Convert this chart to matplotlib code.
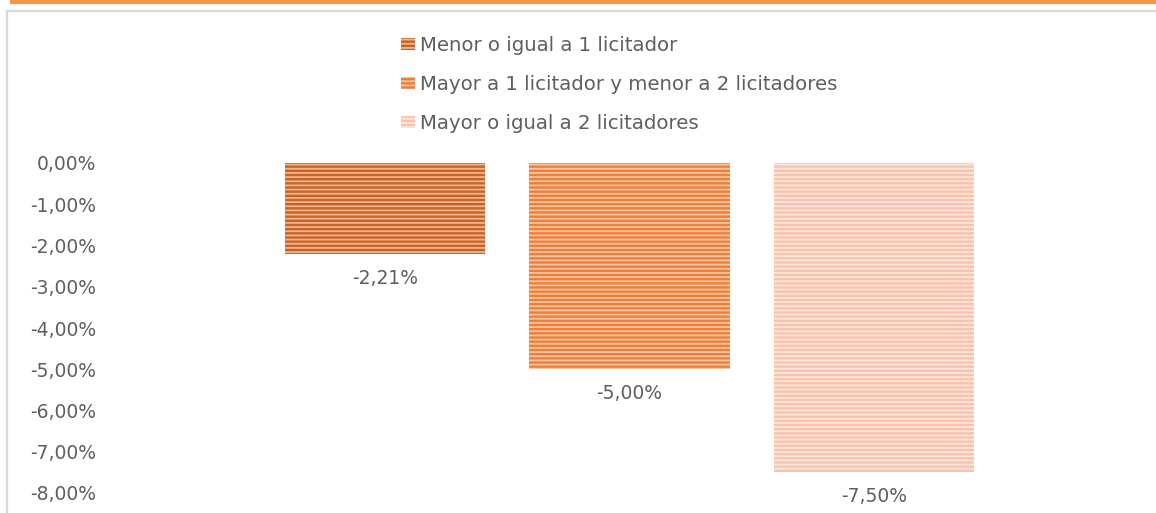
import matplotlib.pyplot as plt
import matplotlib.patches as mpatches
from matplotlib.lines import Line2D

plt.rcParams['font.family'] = ['DejaVu Sans']
plt.rcParams['hatch.linewidth'] = 1.3

# Data
series = ['Menor o igual a 1 licitador',
          'Mayor a 1 licitador y menor a 2 licitadores',
          'Mayor o igual a 2 licitadores']
values = [-2.21, -5.00, -7.50]
yticks = [0, -1, -2, -3, -4, -5, -6, -7, -8]

face_colors = ['#C8632A', '#EE7F3B', '#F9C3AE']
stripe_colors = ['#F2B48A', '#F9C4A0', '#FDE6DC']
text_color = '#5F5F5F'

W, H = 1156, 513
fig = plt.figure(figsize=(W / 100, H / 100), dpi=100)

# orange band on top and the grey frame of the chart box
fig.patches.append(mpatches.Rectangle((10 / W, 1 - 4 / H), 1, 4 / H,
                                      transform=fig.transFigure,
                                      color='#F79646', lw=0))
fig.lines.append(Line2D([7 / W, 1], [1 - 11 / H, 1 - 11 / H],
                        transform=fig.transFigure, color='#D9D9D9', lw=1.6))
fig.lines.append(Line2D([7 / W, 7 / W], [0, 1 - 11 / H],
                        transform=fig.transFigure, color='#D9D9D9', lw=1.6))

# axes placed so that 0 sits at y=163 px and -8 at y=493 px
left, right = 120, 1130
ax = fig.add_axes([left / W, (H - 493) / H, (right - left) / W, 330 / H])
scale = 244.5
x0 = -(385 - left) / scale
ax.set_xlim(x0, x0 + (right - left) / scale)
ax.set_ylim(-8, 0)

xs = [0, 1, 2]
bars = []
for x, v, fc, sc, name in zip(xs, values, face_colors, stripe_colors, series):
    b = ax.bar(x, v, width=0.82, color=fc, edgecolor=sc, linewidth=0,
               hatch='----', label=name)
    bars.append(b)
    ax.text(x, v - 0.36, f'{v:.2f}'.replace('.', ',') + '%',
            ha='center', va='top', fontsize=13.5, color=text_color,
            clip_on=False)

ax.set_yticks(yticks)
ax.set_yticklabels([f'{t:.2f}'.replace('.', ',') + '%' for t in yticks],
                   fontsize=13.5, color=text_color)
ax.tick_params(axis='y', length=0, pad=17)
ax.set_xticks([])
for s in ax.spines.values():
    s.set_visible(False)

fig.legend(handles=[b[0] for b in bars], labels=series,
           loc='upper left', bbox_to_anchor=(391 / W, 1 - 26 / H),
           frameon=False, fontsize=14.2, labelcolor=text_color,
           handlelength=0.7, handleheight=0.55, handletextpad=0.25,
           labelspacing=1.02, borderpad=0)

plt.savefig('out.png', dpi=100)
